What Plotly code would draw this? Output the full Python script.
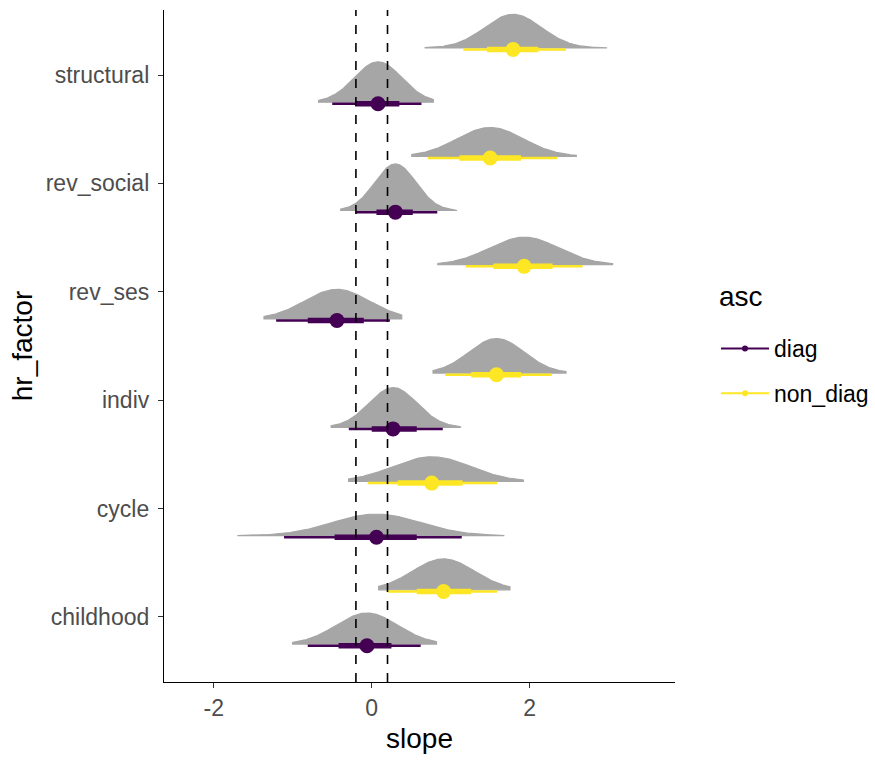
import numpy as np
import plotly.graph_objects as go

# ---------------- data ----------------
categories = ["childhood", "cycle", "indiv", "rev_ses", "rev_social", "structural"]
groups = ["diag", "non_diag"]

# per category, per group: median, 66% and 95% intervals, sample range, spread of the slab
median = {
    "diag":     [-0.06, 0.06, 0.27, -0.44, 0.30, 0.08],
    "non_diag": [0.91, 0.76, 1.58, 1.93, 1.50, 1.79],
}
lo66 = {
    "diag":     [-0.42, -0.47, 0.00, -0.81, 0.06, -0.21],
    "non_diag": [0.57, 0.33, 1.26, 1.54, 1.11, 1.46],
}
hi66 = {
    "diag":     [0.25, 0.57, 0.57, -0.10, 0.52, 0.35],
    "non_diag": [1.26, 1.15, 1.89, 2.29, 1.89, 2.11],
}
lo95 = {
    "diag":     [-0.81, -1.11, -0.29, -1.21, -0.20, -0.50],
    "non_diag": [0.20, -0.05, 0.93, 1.19, 0.71, 1.16],
}
hi95 = {
    "diag":     [0.62, 1.14, 0.90, 0.23, 0.83, 0.63],
    "non_diag": [1.59, 1.59, 2.28, 2.67, 2.35, 2.46],
}
range_lo = {
    "diag":     [-1.01, -1.70, -0.52, -1.37, -0.40, -0.68],
    "non_diag": [0.08, -0.30, 0.77, 0.83, 0.50, 0.67],
}
range_hi = {
    "diag":     [0.82, 1.68, 1.13, 0.38, 1.08, 0.78],
    "non_diag": [1.75, 1.92, 2.46, 3.05, 2.59, 2.98],
}
spread = {
    "diag":     [0.39, 0.56, 0.305, 0.41, 0.26, 0.30],
    "non_diag": [0.39, 0.49, 0.35, 0.44, 0.42, 0.36],
}
rope = [-0.2, 0.2]
x_ticks = [-2, 0, 2]

# ---------------- styles ----------------
colors = {"diag": "#440154", "non_diag": "#FDE725"}
dodge = {"diag": -0.25, "non_diag": 0.25}
slab_fill = "#A6A6A6"
max_height = 0.43
min_sd = min(min(v) for v in spread.values())
FONT = "Liberation Sans, Arial, sans-serif"

fig = go.Figure()

# slabs
for g in groups:
    for i, cat in enumerate(categories):
        base = i + 1 + dodge[g]
        xs = np.linspace(range_lo[g][i], range_hi[g][i], 200)
        sd = spread[g][i]
        h = max_height * (min_sd / sd) * np.exp(-0.5 * ((xs - median[g][i]) / sd) ** 2)
        px = np.concatenate([xs, xs[::-1]])
        py = np.concatenate([base + h, np.full_like(xs, base)])
        fig.add_trace(go.Scatter(
            x=px, y=py, mode="lines", fill="toself", fillcolor=slab_fill,
            line=dict(color=slab_fill, width=1.2), showlegend=False, hoverinfo="skip"))

# point intervals
for g in groups:
    for i, cat in enumerate(categories):
        base = i + 1 + dodge[g] - 0.015
        fig.add_trace(go.Scatter(
            x=[lo95[g][i], hi95[g][i]], y=[base, base], mode="lines",
            line=dict(color=colors[g], width=2.5), showlegend=False, hoverinfo="skip"))
        fig.add_trace(go.Scatter(
            x=[lo66[g][i], hi66[g][i]], y=[base, base], mode="lines",
            line=dict(color=colors[g], width=5.5), showlegend=False, hoverinfo="skip"))
        fig.add_trace(go.Scatter(
            x=[median[g][i]], y=[base], mode="markers",
            marker=dict(color=colors[g], size=15, line=dict(width=0)),
            showlegend=False, hoverinfo="skip"))

# legend entries
for g in groups:
    fig.add_trace(go.Scatter(
        x=[None], y=[None], mode="lines+markers", name=g, legendgroup=g,
        line=dict(color=colors[g], width=2), marker=dict(color=colors[g], size=6)))

# rope lines
for r in rope:
    fig.add_shape(type="line", xref="x", yref="paper", x0=r, x1=r, y0=0, y1=1,
                  line=dict(color="black", width=1.6, dash="dash"), layer="above")

# legend title as annotation
fig.add_annotation(text="asc", xref="paper", yref="paper",
                   x=(717 - 164) / 511, xanchor="left",
                   y=1 - (297 - 10) / 672, yanchor="middle",
                   showarrow=False, font=dict(size=28, color="black", family=FONT))

fig.update_layout(
    width=875, height=760,
    margin=dict(l=164, r=200, t=10, b=78, autoexpand=False),
    paper_bgcolor="white", plot_bgcolor="white",
    font=dict(family=FONT, color="black"),
    showlegend=True,
    legend=dict(
        x=(716 - 164) / 511, xanchor="left",
        y=1 - (327 - 10) / 672, yanchor="top",
        font=dict(size=23, color="black"),
        tracegroupgap=12, itemwidth=48,
    ),
    xaxis=dict(
        range=[-2.63, 3.84], tickvals=x_ticks, ticktext=[str(t) for t in x_ticks],
        showgrid=False, zeroline=False, showline=True, linecolor="black", linewidth=1.3,
        ticks="outside", ticklen=5, tickcolor="#333333", tickwidth=1.2,
        tickfont=dict(size=23, color="#4D4D4D"),
        title=dict(text="slope", font=dict(size=28, color="black"), standoff=8),
    ),
    yaxis=dict(
        range=[0.4, 6.6], tickvals=list(range(1, len(categories) + 1)), ticktext=categories,
        showgrid=False, zeroline=False, showline=True, linecolor="black", linewidth=1.3,
        ticks="outside", ticklen=5, tickcolor="#333333", tickwidth=1.2,
        tickfont=dict(size=23, color="#4D4D4D"), ticklabelstandoff=4,
        title=dict(text="hr_factor", font=dict(size=28, color="black"), standoff=4),
    ),
)

fig.write_html("out.html")
